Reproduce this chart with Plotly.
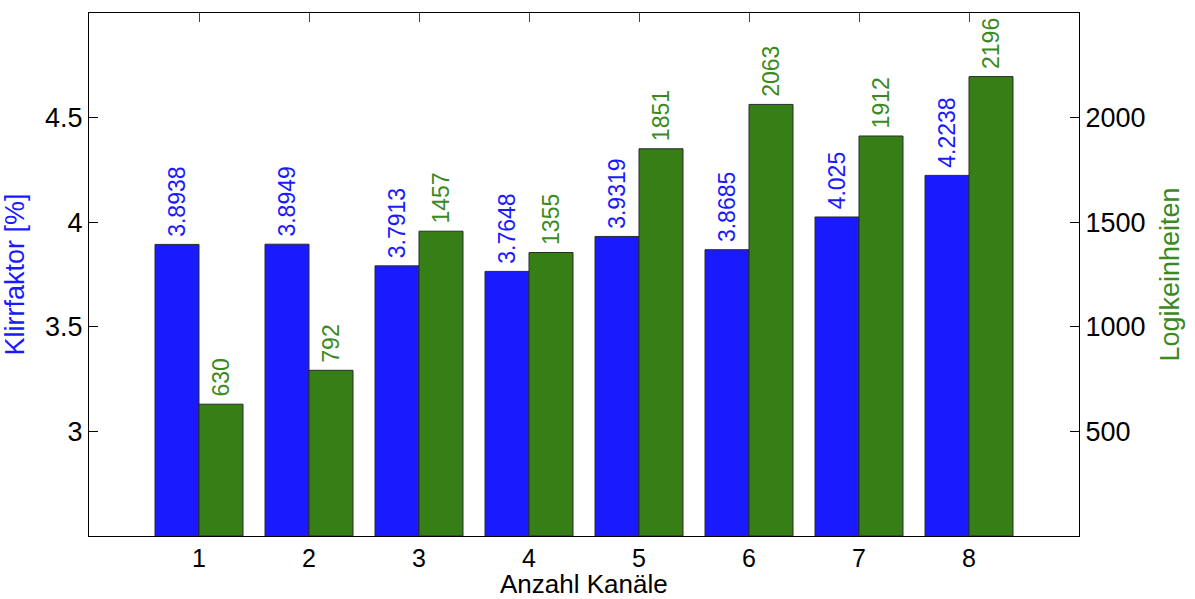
import plotly.graph_objects as go

# Anzahl Kanäle vs. Klirrfaktor and Logikeinheiten
kanaele = [1, 2, 3, 4, 5, 6, 7, 8]
klirrfaktor = [3.8938, 3.8949, 3.7913, 3.7648, 3.9319, 3.8685, 4.025, 4.2238]
logikeinheiten = [630, 792, 1457, 1355, 1851, 2063, 1912, 2196]

left_ticks = [3, 3.5, 4, 4.5]
right_ticks = [500, 1000, 1500, 2000]

BLUE = "#1a1aff"
GREEN = "#367f17"
GREEN_TEXT = "#3a8a1f"
FONT = "Liberation Sans, Arial, Helvetica, sans-serif"

# a thin space keeps the rotated value labels slightly clear of the bar tops
PAD = "\u2009"

fig = go.Figure()

fig.add_trace(go.Bar(
    x=kanaele, y=klirrfaktor, yaxis="y",
    width=0.4, offset=-0.4,
    marker=dict(color=BLUE, line=dict(color="#2a2a2a", width=1)),
    text=[PAD + str(v) for v in klirrfaktor],
    textposition="outside", textangle=-90, constraintext="none",
    cliponaxis=False,
    textfont=dict(family=FONT, size=23, color=BLUE),
    showlegend=False,
))

fig.add_trace(go.Bar(
    x=kanaele, y=logikeinheiten, yaxis="y2",
    width=0.4, offset=0.0,
    marker=dict(color=GREEN, line=dict(color="#2a2a2a", width=1)),
    text=[PAD + str(v) for v in logikeinheiten],
    textposition="outside", textangle=-90, constraintext="none",
    cliponaxis=False,
    textfont=dict(family=FONT, size=23, color=GREEN_TEXT),
    showlegend=False,
))

fig.update_layout(
    width=1195, height=599,
    margin=dict(l=89, r=116, t=13, b=63),
    paper_bgcolor="white", plot_bgcolor="white",
    font=dict(family=FONT, size=27, color="black"),
    bargap=0.2,
    xaxis=dict(
        range=[0, 9], tickvals=kanaele, ticktext=[str(k) for k in kanaele],
        ticks="inside", ticklen=9, tickcolor="#444", tickwidth=1,
        showline=True, linecolor="black", linewidth=1, mirror="ticks",
        showgrid=False, zeroline=False, automargin=False,
        tickfont=dict(size=25),
    ),
    yaxis=dict(
        range=[2.5, 5], tickvals=left_ticks, ticktext=["3", "3.5", "4", "4.5"],
        ticks="inside", ticklen=9, tickcolor="black", tickwidth=1,
        showline=True, linecolor="black", linewidth=1,
        showgrid=False, zeroline=False, automargin=False,
        title=dict(text="Klirrfaktor [%]", font=dict(size=27, color=BLUE)),
        tickfont=dict(size=27),
    ),
    yaxis2=dict(
        range=[0, 2500], tickvals=right_ticks,
        overlaying="y", side="right",
        ticks="inside", ticklen=9, tickcolor="black", tickwidth=1,
        showline=True, linecolor="black", linewidth=1,
        showgrid=False, zeroline=False, automargin=False,
        title=dict(text="Logikeinheiten", font=dict(size=27, color=GREEN_TEXT)),
        tickfont=dict(size=27),
    ),
    annotations=[dict(
        text="Anzahl Kanäle", xref="paper", yref="paper",
        x=0.5, y=0, yshift=-48, xanchor="center", yanchor="middle",
        borderpad=0, showarrow=False,
        font=dict(family=FONT, size=26, color="black"),
    )],
)

fig.write_html("out.html")
